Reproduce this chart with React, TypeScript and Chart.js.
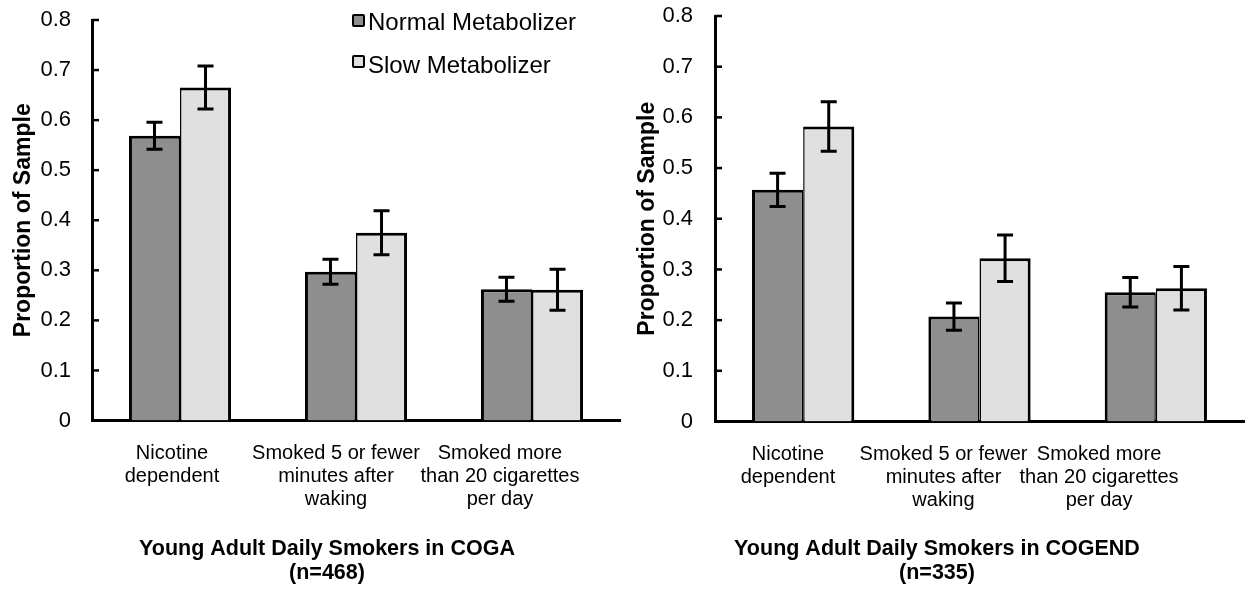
import React, { useEffect, useRef } from 'react';
import { Chart, registerables } from 'chart.js';

Chart.register(...registerables);

// ---------- data ----------
const categories: string[][] = [
  ['Nicotine', 'dependent'],
  ['Smoked 5 or fewer', 'minutes after', 'waking'],
  ['Smoked more', 'than 20 cigarettes', 'per day'],
];
const seriesNames = ['Normal Metabolizer', 'Slow Metabolizer'];
const yTickLabels = ['0', '0.1', '0.2', '0.3', '0.4', '0.5', '0.6', '0.7', '0.8'];
const yAxisTitle = 'Proportion of Sample';

const cogaNormal = [0.569, 0.297, 0.262];
const cogaNormalErr = [0.027, 0.025, 0.024];
const cogaSlow = [0.665, 0.375, 0.261];
const cogaSlowErr = [0.043, 0.044, 0.041];
const cogaTitle = ['Young Adult Daily Smokers in COGA', '(n=468)'];

const cogendNormal = [0.457, 0.207, 0.255];
const cogendNormalErr = [0.033, 0.027, 0.029];
const cogendSlow = [0.582, 0.322, 0.263];
const cogendSlowErr = [0.049, 0.046, 0.043];
const cogendTitle = ['Young Adult Daily Smokers in COGEND', '(n=335)'];

// ---------- styles ----------
const FONT = '"Liberation Sans", Arial, Helvetica, sans-serif';
const DARK = '#8e8e8e';
const LIGHT = '#e0e0e0';

Chart.defaults.font.family = FONT;
Chart.defaults.color = '#000';

const errorBarPlugin = {
  id: 'errorBars',
  afterDatasetsDraw(chart: any) {
    const { ctx } = chart;
    const yScale = chart.scales.y;
    ctx.save();
    ctx.strokeStyle = '#000';
    ctx.lineWidth = 3;
    ctx.lineCap = 'butt';
    chart.data.datasets.forEach((ds: any, di: number) => {
      const meta = chart.getDatasetMeta(di);
      meta.data.forEach((bar: any, i: number) => {
        const v = ds.data[i];
        const e = ds.errors[i];
        const x = bar.x;
        const yt = yScale.getPixelForValue(v + e);
        const yb = yScale.getPixelForValue(v - e);
        ctx.beginPath();
        ctx.moveTo(x, yt);
        ctx.lineTo(x, yb);
        ctx.moveTo(x - 8, yt);
        ctx.lineTo(x + 8, yt);
        ctx.moveTo(x - 8, yb);
        ctx.lineTo(x + 8, yb);
        ctx.stroke();
      });
    });
    ctx.restore();
  },
};

const inwardTicksPlugin = {
  id: 'inwardTicks',
  afterDraw(chart: any) {
    const { ctx, chartArea } = chart;
    const yScale = chart.scales.y;
    ctx.save();
    ctx.strokeStyle = '#000';
    ctx.lineWidth = 2.5;
    yScale.ticks.forEach((t: any) => {
      const py = yScale.getPixelForValue(t.value);
      ctx.beginPath();
      ctx.moveTo(chartArea.left, py);
      ctx.lineTo(chartArea.left + 7, py);
      ctx.stroke();
    });
    ctx.restore();
  },
};

interface Params {
  normal: number[];
  normalErr: number[];
  slow: number[];
  slowErr: number[];
  title: string[];
  padding: { left: number; right: number; top: number; bottom: number };
  yWidth: number;
  yTitlePad: number;
  yTickPad: number;
  xlHeight: number;
  xlMin: number;
  xlMax: number;
}

function makeConfig(p: Params): any {
  return {
    type: 'bar',
    data: {
      labels: categories.map((c) => c.join(' ')),
      datasets: [
        {
          label: seriesNames[0],
          data: p.normal,
          errors: p.normalErr,
          backgroundColor: DARK,
          borderColor: '#000',
          borderWidth: { top: 3, left: 3, right: 1.5, bottom: 0 },
          borderSkipped: false,
          categoryPercentage: 0.58,
          barPercentage: 1,
          xAxisID: 'x',
          yAxisID: 'y',
        },
        {
          label: seriesNames[1],
          data: p.slow,
          errors: p.slowErr,
          backgroundColor: LIGHT,
          borderColor: '#000',
          borderWidth: { top: 3, left: 1.5, right: 3, bottom: 0 },
          borderSkipped: false,
          categoryPercentage: 0.58,
          barPercentage: 1,
          xAxisID: 'x',
          yAxisID: 'y',
        },
      ],
    },
    options: {
      responsive: false,
      animation: false,
      devicePixelRatio: 1,
      layout: { padding: p.padding },
      plugins: {
        legend: { display: false },
        tooltip: { enabled: false },
        title: {
          display: true,
          position: 'bottom',
          text: p.title,
          color: '#000',
          font: { size: 21.5, weight: 'bold', lineHeight: 24 / 21.5, family: FONT },
          padding: { top: 0, bottom: 7 },
        },
      },
      scales: {
        x: {
          type: 'category',
          position: 'bottom',
          weight: 0,
          offset: true,
          grid: { display: false, drawTicks: false },
          ticks: { display: false },
          border: { display: true, color: '#000', width: 3 },
          afterFit: (s: any) => {
            s.height = 0;
            s.paddingLeft = 0;
            s.paddingRight = 0;
          },
        },
        xl: {
          type: 'linear',
          axis: 'x',
          position: 'bottom',
          weight: 1,
          bounds: 'data',
          offset: false,
          min: p.xlMin,
          max: p.xlMax,
          grid: { display: false, drawTicks: false, offset: false },
          border: { display: false },
          afterBuildTicks: (s: any) => {
            s.ticks = categories.map((_, i) => ({ value: i }));
          },
          afterFit: (s: any) => {
            s.height = p.xlHeight;
            s.paddingLeft = 0;
            s.paddingRight = 0;
          },
          ticks: {
            autoSkip: false,
            maxRotation: 0,
            minRotation: 0,
            padding: 22,
            color: '#000',
            font: { size: 20, lineHeight: 1.13, family: FONT },
            callback: (v: any) => categories[Math.round(Number(v))],
          },
        },
        y: {
          type: 'linear',
          position: 'left',
          min: 0,
          max: 0.8,
          grid: { display: false, drawTicks: false },
          border: { display: true, color: '#000', width: 3 },
          ticks: {
            stepSize: 0.1,
            padding: p.yTickPad,
            color: '#000',
            font: { size: 22, family: FONT },
            callback: (v: any) => yTickLabels[Math.round(Number(v) * 10)],
          },
          title: {
            display: true,
            text: yAxisTitle,
            color: '#000',
            font: { size: 23, weight: 'bold', lineHeight: 1.2, family: FONT },
            padding: { top: p.yTitlePad, bottom: 0 },
          },
          afterFit: (s: any) => {
            s.width = p.yWidth;
            s.paddingTop = 0;
            s.paddingBottom = 0;
          },
        },
      },
    },
    plugins: [errorBarPlugin, inwardTicksPlugin],
  };
}

function BarChart(props: { params: Params; left: number; width: number }) {
  const ref = useRef<HTMLCanvasElement | null>(null);
  useEffect(() => {
    if (!ref.current) return;
    const chart = new Chart(ref.current, makeConfig(props.params));
    return () => chart.destroy();
  }, []);
  return (
    <canvas
      ref={ref}
      width={props.width}
      height={592}
      style={{ position: 'absolute', left: props.left, top: 0, width: props.width, height: 592 }}
    />
  );
}

const leftParams: Params = {
  normal: cogaNormal,
  normalErr: cogaNormalErr,
  slow: cogaSlow,
  slowErr: cogaSlowErr,
  title: cogaTitle,
  padding: { left: 34, right: 5, top: 20, bottom: 0 },
  yWidth: 58,
  yTitlePad: -24,
  yTickPad: 21,
  xlHeight: 116.5,
  xlMin: -0.4878,
  xlMax: 2.7317,
};

const rightParams: Params = {
  normal: cogendNormal,
  normalErr: cogendNormalErr,
  slow: cogendSlow,
  slowErr: cogendSlowErr,
  title: cogendTitle,
  padding: { left: 5, right: 6, top: 16, bottom: 0 },
  yWidth: 85,
  yTitlePad: 4.2,
  yTickPad: 22,
  xlHeight: 115.5,
  xlMin: -0.469,
  xlMax: 2.932,
};

function LegendItem(props: { top: number; color: string; label: string; textTop: number }) {
  return (
    <>
      <div
        style={{
          position: 'absolute',
          left: 352,
          top: props.top,
          width: 13,
          height: 13,
          boxSizing: 'border-box',
          border: '2px solid #000',
          borderRadius: 2,
          background: props.color,
        }}
      />
      <div
        style={{
          position: 'absolute',
          left: 368,
          top: props.textTop,
          fontFamily: FONT,
          fontSize: 24,
          lineHeight: '24px',
          color: '#000',
          whiteSpace: 'nowrap',
        }}
      >
        {props.label}
      </div>
    </>
  );
}

export default function App() {
  return (
    <div
      style={{
        position: 'fixed',
        left: 0,
        top: 0,
        width: 1250,
        height: 592,
        background: '#fff',
        overflow: 'hidden',
      }}
    >
      <BarChart params={leftParams} left={0} width={625} />
      <BarChart params={rightParams} left={625} width={625} />
      <LegendItem top={14} color={DARK} label={seriesNames[0]} textTop={10} />
      <LegendItem top={55} color={LIGHT} label={seriesNames[1]} textTop={53} />
    </div>
  );
}
